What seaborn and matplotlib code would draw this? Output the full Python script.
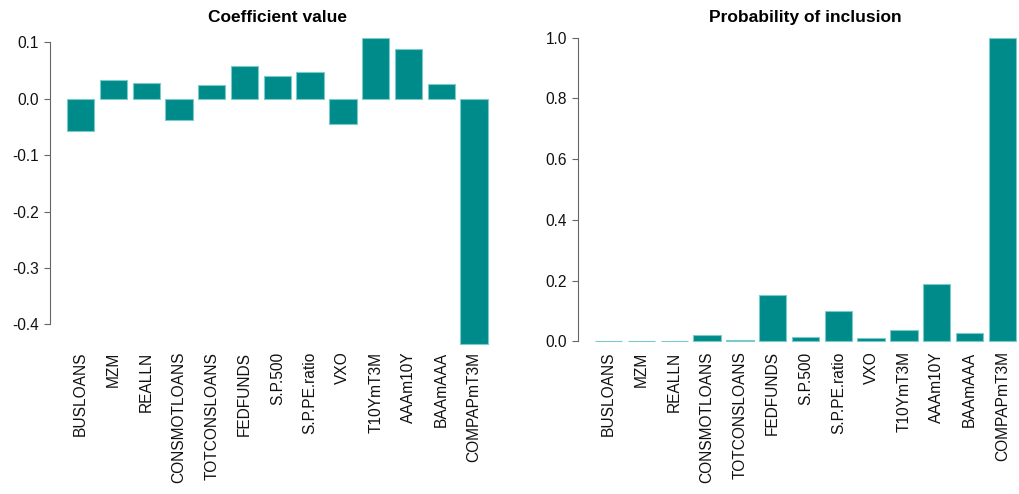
import matplotlib
matplotlib.use("Agg")
import matplotlib.pyplot as plt
import seaborn as sns

variables = ["BUSLOANS", "MZM", "REALLN", "CONSMOTLOANS", "TOTCONSLOANS",
             "FEDFUNDS", "S.P.500", "S.P.PE.ratio", "VXO", "T10YmT3M",
             "AAAm10Y", "BAAmAAA", "COMPAPmT3M"]
coef_values = [-0.057, 0.033, 0.028, -0.037, 0.024, 0.058, 0.040, 0.048,
               -0.044, 0.108, 0.088, 0.027, -0.435]
incl_prob = [0.002, 0.002, 0.002, 0.020, 0.004, 0.152, 0.013, 0.100,
             0.011, 0.037, 0.188, 0.026, 1.0]
coef_ticks = [0.1, 0.0, -0.1, -0.2, -0.3, -0.4]
prob_ticks = [0.0, 0.2, 0.4, 0.6, 0.8, 1.0]

sns.set_theme(style="white")
plt.rcParams["font.family"] = ["Liberation Sans", "DejaVu Sans"]

BAR = "#008B8B"
EDGE = "#7CCACA"
AXIS = "#666666"

fig = plt.figure(figsize=(10.19, 4.94), dpi=100)
ax1 = fig.add_axes([0.0493, 0.2783, 0.4458, 0.6702])
ax2 = fig.add_axes([0.5674, 0.2844, 0.4461, 0.6640])

bar_w = 1 / 1.2
xlim = (-0.93, 12.93)


def style(ax, title, ticks, lo, hi, fmt, xpad):
    ax.set_xlim(*xlim)
    ax.set_ylim(lo, hi)
    ax.set_title(title, fontsize=12.5, fontweight="bold", pad=2.5, color="black")
    for s in ["top", "right", "bottom"]:
        ax.spines[s].set_visible(False)
    ax.spines["left"].set_color(AXIS)
    ax.spines["left"].set_linewidth(0.8)
    ax.spines["left"].set_bounds(min(ticks), max(ticks))
    ax.set_yticks(ticks)
    ax.set_yticklabels([fmt.format(t) for t in ticks])
    ax.tick_params(axis="y", left=True, length=4, width=0.8, color=AXIS,
                   pad=4, labelsize=11.2, labelcolor="#111111")
    ax.tick_params(axis="x", bottom=False, length=0, pad=xpad, labelsize=11.2,
                   labelcolor="#111111")
    ax.set_xticks(range(len(variables)))
    ax.set_xticklabels(variables, rotation=90, va="top", ha="center")
    ax.set_xlabel("")
    ax.set_ylabel("")
    ax.grid(False)
    ax.patch.set_alpha(0)


sns.barplot(x=variables, y=coef_values, ax=ax1, color=BAR, saturation=1,
            width=bar_w, edgecolor=EDGE, linewidth=0.8)
style(ax1, "Coefficient value", coef_ticks, -0.457, 0.130, "{:.1f}", -3.5)

sns.barplot(x=variables, y=incl_prob, ax=ax2, color=BAR, saturation=1,
            width=bar_w, edgecolor=EDGE, linewidth=0.8)
style(ax2, "Probability of inclusion", prob_ticks, -0.04, 1.04, "{:.1f}", -1.5)

fig.savefig("out.png", dpi=100, facecolor="white")
